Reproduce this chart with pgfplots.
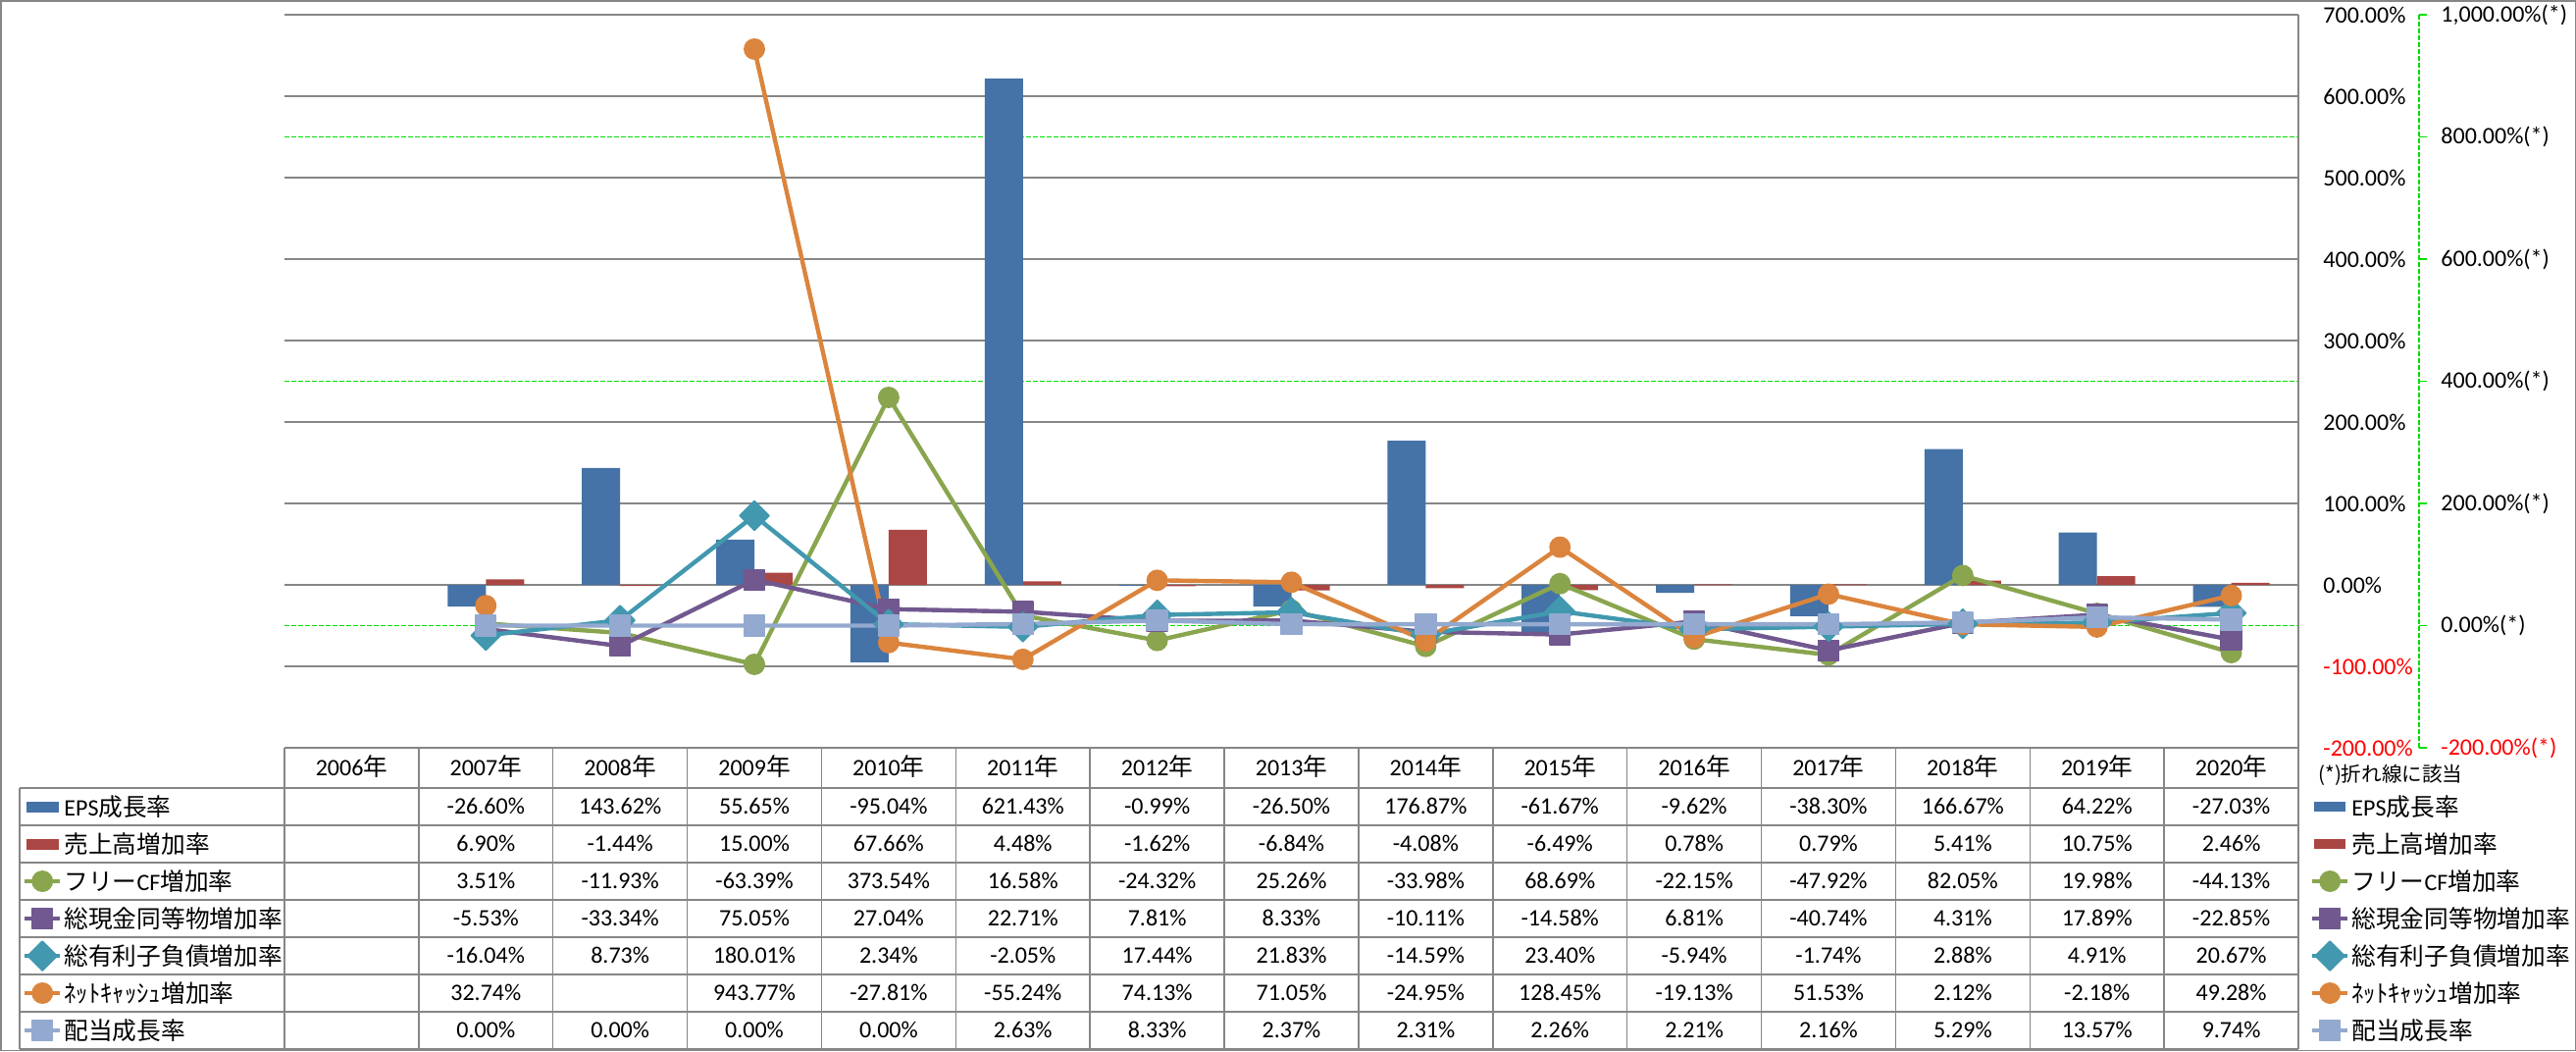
\documentclass[border=0pt]{standalone}
\usepackage{pgfplots}
\pgfplotsset{compat=1.18}
\usepackage{pgfplotstable}
\usepackage{fontspec}
\setmainfont{Carlito}
\newfontfamily\cjkfont{Noto Sans CJK JP}[Scale=1.03]
\newcommand\J[1]{{\cjkfont #1}}
\definecolor{cEPS}{HTML}{4572A7}
\definecolor{cSales}{HTML}{AA4643}
\definecolor{cFCF}{HTML}{89A54E}
\definecolor{cCash}{HTML}{71588F}
\definecolor{cDebt}{HTML}{4198AF}
\definecolor{cNet}{HTML}{DB843D}
\definecolor{cDiv}{HTML}{93A9CF}
\definecolor{gridgray}{HTML}{868686}
\definecolor{gdash}{HTML}{00E000}

\pgfplotstableread{
x eps sales fcf cash debt net div
1 -26.60 6.90 3.51 -5.53 -16.04 32.74 0.00
2 143.62 -1.44 -11.93 -33.34 8.73 nan 0.00
3 55.65 15.00 -63.39 75.05 180.01 943.77 0.00
4 -95.04 67.66 373.54 27.04 2.34 -27.81 0.00
5 621.43 4.48 16.58 22.71 -2.05 -55.24 2.63
6 -0.99 -1.62 -24.32 7.81 17.44 74.13 8.33
7 -26.50 -6.84 25.26 8.33 21.83 71.05 2.37
8 176.87 -4.08 -33.98 -10.11 -14.59 -24.95 2.31
9 -61.67 -6.49 68.69 -14.58 23.40 128.45 2.26
10 -9.62 0.78 -22.15 6.81 -5.94 -19.13 2.21
11 -38.30 0.79 -47.92 -40.74 -1.74 51.53 2.16
12 166.67 5.41 82.05 4.31 2.88 2.12 5.29
13 64.22 10.75 19.98 17.89 4.91 -2.18 13.57
14 -27.03 2.46 -44.13 -22.85 20.67 49.28 9.74
}\data

\tikzset{
  sFCF/.style={color=cFCF, line width=2.2pt, line join=round, mark=*, mark size=5.1pt,
    mark options={solid, fill=cFCF, draw=cFCF, line width=0.75pt}},
  sCash/.style={color=cCash, line width=2.2pt, line join=round, mark=square*, mark size=5.2pt,
    mark options={solid, fill=cCash, draw=cCash, line width=0.75pt, line join=round}},
  sDebt/.style={color=cDebt, line width=2.2pt, line join=round, mark=square*, mark size=5.3pt,
    mark options={solid, fill=cDebt, draw=cDebt, line width=0.75pt, line join=round, rotate=45}},
  sNet/.style={color=cNet, line width=2.2pt, line join=round, mark=*, mark size=5.1pt,
    mark options={solid, fill=cNet, draw=cNet, line width=0.75pt}},
  sDiv/.style={color=cDiv, line width=2.2pt, line join=round, mark=square*, mark size=5.2pt,
    mark options={solid, fill=cDiv, draw=cDiv, line width=0.75pt, line join=round}},
}
\pgfplotsset{
  linekey/.style={legend image code/.code={%
    \draw[mark repeat=2,mark phase=2,##1] plot coordinates {(0pt,0pt) (9pt,0pt) (18pt,0pt)};}},
  mylegend/.style={legend cell align=left,
    legend style={draw=none, fill=none, inner sep=0pt, outer sep=0pt, row sep=0pt,
      anchor=north west,
      nodes={inner sep=0pt, outer sep=0pt, text height=14pt, text depth=5pt},
      /tikz/every odd column/.append style={column sep=1pt}}},
}

\def\nanstr{nan}
\newcommand\cellval[2]{%
  \pgfplotstablegetelem{#1}{#2}\of\data
  \edef\v{\pgfplotsretval}%
  \ifx\v\nanstr\else\pgfmathprintnumber[fixed,fixed zerofill,precision=2,assume math mode=true]{\v}\%\fi}

\begin{document}
\fontsize{12}{14}\selectfont
\begin{tikzpicture}
\useasboundingbox (0pt,0pt) rectangle (1313pt,-535.5pt);
\draw[gridgray, line width=0.75pt] (0.375pt,-0.375pt) rectangle (1312.625pt,-535.125pt);

\begin{axis}[
  at={(145pt,-381pt)}, anchor=south west, scale only axis,
  width=1026.5pt, height=373.5pt,
  xmin=-0.5, xmax=14.5, ymin=-200, ymax=700,
  axis x line=none, axis y line*=right,
  y axis line style={gridgray, line width=0.75pt},
  xtick=\empty,
  ytick={-200,-100,...,700},
  yticklabels={{\color{red}-200.00\%},{\color{red}-100.00\%},0.00\%,100.00\%,200.00\%,300.00\%,400.00\%,500.00\%,600.00\%,700.00\%},
  major tick length=0pt,
  yticklabel style={anchor=west, inner sep=0pt, xshift=12.5pt},
  ymajorgrids, major grid style={gridgray, line width=0.75pt},
  extra y ticks={-50,250,550}, extra y tick labels={},
  extra y tick style={grid=major, major grid style={gdash, line width=0.6pt, dash pattern=on 2.5pt off 1pt}},
  linekey, mylegend,
  legend style={at={(1.005845,-0.054886)}},
]
\addplot[ybar, bar width=19.5pt, bar shift=-9.75pt, fill=cEPS, draw=none,
  legend image code/.code={\fill[cEPS] (1pt,-2.5pt) rectangle (17pt,2.5pt);}] table[x=x,y=eps]{\data};
\addplot[ybar, bar width=19.5pt, bar shift=9.75pt, fill=cSales, draw=none,
  legend image code/.code={\fill[cSales] (1pt,-2.5pt) rectangle (17pt,2.5pt);}] table[x=x,y=sales]{\data};
\addlegendimage{sFCF}
\addlegendimage{sCash}
\addlegendimage{sDebt}
\addlegendimage{sNet}
\addlegendimage{sDiv}
\legend{EPS\J{成長率},\J{売上高増加率},\J{フリー}CF\J{増加率},\J{総現金同等物増加率},\J{総有利子負債増加率},\J{ﾈｯﾄｷｬｯｼｭ増加率},\J{配当成長率}}
\end{axis}

\begin{axis}[
  at={(145pt,-381pt)}, anchor=south west, scale only axis,
  width=1026.5pt, height=373.5pt,
  xmin=-0.5, xmax=14.5, ymin=-200, ymax=1000,
  axis x line=none, axis y line*=right,
  y axis line style={draw=none},
  xtick=\empty,
  ytick={-200,0,...,1000},
  yticklabels={{\color{red}-200.00\%(*)},0.00\%(*),200.00\%(*),400.00\%(*),600.00\%(*),800.00\%(*),{1,000.00\%(*)}},
  major tick length=0pt,
  yticklabel style={anchor=west, inner sep=0pt, xshift=72.5pt},
  clip=false, unbounded coords=jump,
  linekey, mylegend,
  legend style={at={(-0.130054,-0.054886)}},
  after end axis/.code={
    \draw[gdash, line width=0.6pt, dash pattern=on 2.5pt off 1pt] ([xshift=61.5pt]rel axis cs:1,0) -- ([xshift=61.5pt]rel axis cs:1,1);
    \foreach \yy in {-200,0,...,1000}{\draw[gdash, line width=0.6pt] ([xshift=61.5pt]axis cs:14.5,\yy) -- ++(4pt,0pt);}
  },
]
\addlegendimage{legend image code/.code={\fill[cEPS] (1pt,-2.5pt) rectangle (17pt,2.5pt);}}
\addlegendimage{legend image code/.code={\fill[cSales] (1pt,-2.5pt) rectangle (17pt,2.5pt);}}
\addplot[sFCF] table[x=x,y=fcf]{\data};
\addplot[sCash] table[x=x,y=cash]{\data};
\addplot[sDebt] table[x=x,y=debt]{\data};
\addplot[sNet] table[x=x,y=net]{\data};
\addplot[sDiv] table[x=x,y=div]{\data};
\legend{EPS\J{成長率},\J{売上高増加率},\J{フリー}CF\J{増加率},\J{総現金同等物増加率},\J{総有利子負債増加率},\J{ﾈｯﾄｷｬｯｼｭ増加率},\J{配当成長率}}
\end{axis}

% data table grid
\begin{scope}[gridgray, line width=0.75pt]
  \foreach \k in {0,...,15}{
    \pgfmathsetmacro\xx{145+\k*68.43333}
    \draw (\xx pt,-381pt) -- (\xx pt,-534.5pt);
  }
  \draw (10pt,-401.5pt) -- (10pt,-534.5pt);
  \foreach \r in {0,...,7}{
    \pgfmathsetmacro\yy{-401.5-19*\r}
    \draw (10pt,\yy pt) -- (1171.5pt,\yy pt);
  }
\end{scope}

% header
\foreach \k in {0,...,14}{
  \pgfmathsetmacro\cx{145+(\k+0.5)*68.43333}
  \pgfmathtruncatemacro\yr{2006+\k}
  \node[anchor=base, inner sep=0pt] at (\cx pt,-395.3pt) {\yr\J{年}};
}
% values
\foreach \col [count=\r from 0] in {eps,sales,fcf,cash,debt,net,div}{
  \foreach \k in {1,...,14}{
    \pgfmathtruncatemacro\ri{\k-1}
    \pgfmathsetmacro\cx{145+(\k+0.5)*68.43333}
    \pgfmathsetmacro\cy{-411-19*\r-3.8}
    \node[anchor=base, inner sep=0pt] at (\cx pt,\cy pt) {\cellval{\ri}{\col}};
  }
}
\node[anchor=west, inner sep=0pt] at (1181.5pt,-395pt) {\fontsize{10}{12}\selectfont\J{(*)折れ線に該当}};
\end{tikzpicture}
\end{document}
